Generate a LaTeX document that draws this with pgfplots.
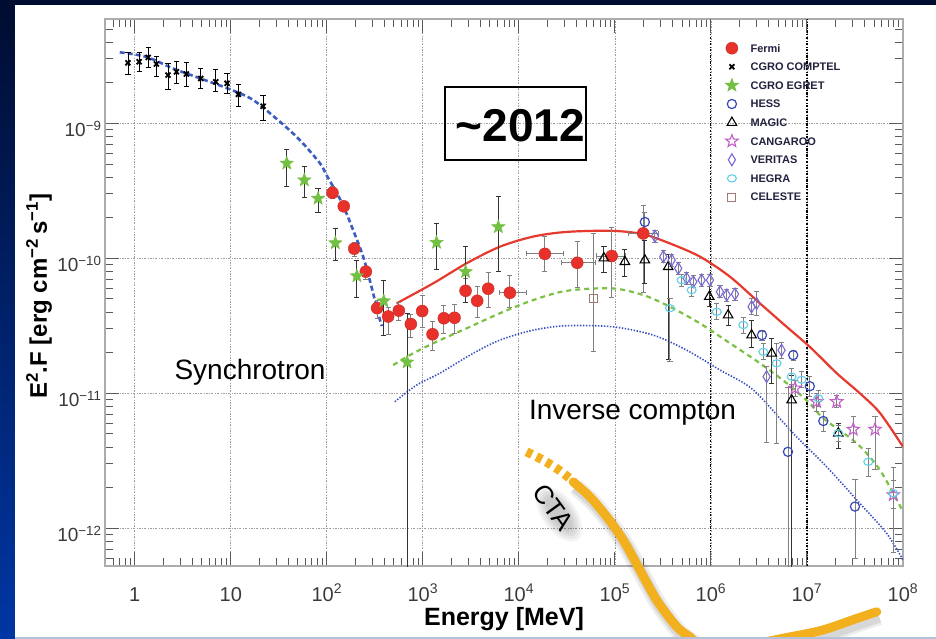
\documentclass[border=0pt]{standalone}
\usepackage{fontspec}
\setmainfont{Liberation Sans}
\usepackage{pgfplots}
\usepackage{pgfplotstable}
\pgfplotsset{compat=1.18}
\usetikzlibrary{plotmarks}

\definecolor{navytop}{HTML}{000C30}
\definecolor{navybot}{HTML}{0036A4}
\definecolor{panelline}{HTML}{B4C2D8}
\definecolor{fermired}{HTML}{E8312A}
\definecolor{egret}{HTML}{74C043}
\definecolor{hessblue}{HTML}{3848B8}
\definecolor{cangaroo}{HTML}{C060C8}
\definecolor{veritas}{HTML}{7A6AD8}
\definecolor{hegra}{HTML}{60D0E8}
\definecolor{celeste}{HTML}{A07878}
\definecolor{icred}{HTML}{E63A2E}
\definecolor{icgreen}{HTML}{7CC143}
\definecolor{synblue}{HTML}{3C5CC0}
\definecolor{dotblue}{HTML}{3A50C0}
\definecolor{cta}{HTML}{F2B01E}
\definecolor{legtext}{HTML}{22223F}
\definecolor{ticktext}{HTML}{3A3A3A}

% five-pointed stars, filled and open
\pgfdeclareplotmark{fstar}{%
  \pgfpathmoveto{\pgfpointpolar{90}{\pgfplotmarksize}}%
  \pgfpathlineto{\pgfpointpolar{126}{0.42*\pgfplotmarksize}}%
  \pgfpathlineto{\pgfpointpolar{162}{\pgfplotmarksize}}%
  \pgfpathlineto{\pgfpointpolar{198}{0.42*\pgfplotmarksize}}%
  \pgfpathlineto{\pgfpointpolar{234}{\pgfplotmarksize}}%
  \pgfpathlineto{\pgfpointpolar{270}{0.42*\pgfplotmarksize}}%
  \pgfpathlineto{\pgfpointpolar{306}{\pgfplotmarksize}}%
  \pgfpathlineto{\pgfpointpolar{342}{0.42*\pgfplotmarksize}}%
  \pgfpathlineto{\pgfpointpolar{18}{\pgfplotmarksize}}%
  \pgfpathlineto{\pgfpointpolar{54}{0.42*\pgfplotmarksize}}%
  \pgfpathclose\pgfusepathqfillstroke}
\pgfdeclareplotmark{ostar}{%
  \pgfpathmoveto{\pgfpointpolar{90}{\pgfplotmarksize}}%
  \pgfpathlineto{\pgfpointpolar{126}{0.42*\pgfplotmarksize}}%
  \pgfpathlineto{\pgfpointpolar{162}{\pgfplotmarksize}}%
  \pgfpathlineto{\pgfpointpolar{198}{0.42*\pgfplotmarksize}}%
  \pgfpathlineto{\pgfpointpolar{234}{\pgfplotmarksize}}%
  \pgfpathlineto{\pgfpointpolar{270}{0.42*\pgfplotmarksize}}%
  \pgfpathlineto{\pgfpointpolar{306}{\pgfplotmarksize}}%
  \pgfpathlineto{\pgfpointpolar{342}{0.42*\pgfplotmarksize}}%
  \pgfpathlineto{\pgfpointpolar{18}{\pgfplotmarksize}}%
  \pgfpathlineto{\pgfpointpolar{54}{0.42*\pgfplotmarksize}}%
  \pgfpathclose\pgfusepathqstroke}

% ---------------- data: energy [MeV], E^2 F [erg cm^-2 s^-1], relative errors
\pgfplotstableread{
x y ep em xp xm
114.6 3.06e-10 0.108 0.097 0 0
150 2.43e-10 0.089 0.082 0 0
193 1.18e-10 0.108 0.127 0 0
255 7.98e-11 0.089 0.127 0 0
334 4.28e-11 0.146 0.157 0 0
435 3.71e-11 0.166 0.264 0 0
562 4.10e-11 0.146 0.157 0 0
750 3.26e-11 0.186 0.199 0 0
984 4.07e-11 0.314 0.239 0 0
1262 2.74e-11 0.248 0.239 0 0
1655 3.60e-11 0.248 0.226 0 0
2138 3.63e-11 0.248 0.239 0 0
2786 5.75e-11 0.227 0.185 0 0
3680 4.85e-11 0.270 0.252 0 0
4786 5.96e-11 0.314 0.277 0 0
8054 5.56e-11 0.337 0.226 0.493 0.213
18660 1.08e-10 0.337 0.264 0.552 0.356
40500 9.27e-11 0.431 0.347 0.531 0.313
92500 1.04e-10 0.640 0.503 0.40 0.313
197000 1.53e-10 0.612 0.634 0.45 0.30
}\fermi

\pgfplotstableread{
x y ep em
0.85 2.81e-9 0.186 0.185
1.11 2.86e-9 0.166 0.157
1.38 3.08e-9 0.186 0.157
1.68 2.75e-9 0.146 0.185
2.22 2.28e-9 0.227 0.212
2.72 2.41e-9 0.186 0.185
3.45 2.32e-9 0.227 0.185
4.87 2.15e-9 0.186 0.157
6.98 2.03e-9 0.227 0.157
9.15 1.98e-9 0.186 0.157
12.0 1.64e-9 0.186 0.185
21.7 1.34e-9 0.206 0.212
}\comptel

\pgfplotstableread{
x y ep em
38.3 5.06e-10 0.270 0.324
58.3 3.80e-10 0.270 0.252
81.1 2.78e-10 0.186 0.212
122.7 1.30e-10 0.291 0.252
205.6 7.40e-11 0.314 0.301
392 4.83e-11 0.431 0.440
686 1.70e-11 1.307 0.98
1389 1.31e-10 0.383 0.369
2786 7.96e-11 0.531 0.410
6110 1.71e-10 0.668 0.536
}\egret

\pgfplotstableread{
x y ep em
205000 1.86e-10 0.186 0.127
3.40e6 2.70e-11 0.089 0.082
7.19e6 1.92e-11 0.089 0.082
1.07e7 1.13e-11 0.186 0.157
1.48e7 6.24e-12 0.186 0.157
6.34e6 3.69e-12 2.0 0.95
3.16e7 1.45e-12 0.585 0.588
}\hess

\pgfplotstableread{
x y ep em
76800 1.005e-10 0.227 0.212
127000 9.44e-11 0.227 0.226
205000 9.71e-11 0.406 0.324
359000 8.66e-11 0.227 0.795
960000 5.20e-11 0.186 0.157
1.51e6 3.80e-11 0.186 0.157
2.65e6 2.70e-11 0.291 0.185
4.29e6 1.98e-11 0.291 0.401
6.92e6 8.91e-12 0.531 0.97
2.12e7 5.06e-12 0.186 0.226
}\magic

\pgfplotstableread{
x y ep em
7.50e6 1.09e-11 0.146 0.127
1.26e7 8.67e-12 0.146 0.157
2.04e7 8.67e-12 0.108 0.097
3.03e7 5.41e-12 0.248 0.199
5.11e7 5.41e-12 0.248 0.495
7.92e7 1.77e-12 0.585 0.628
}\cangaroo

\pgfplotstableread{
x y ep em
261000 1.46e-10 0.108 0.097
319000 1.03e-10 0.108 0.097
390000 9.71e-11 0.108 0.097
456000 8.43e-11 0.108 0.097
558000 7.11e-11 0.108 0.097
655000 6.71e-11 0.108 0.097
800000 6.90e-11 0.108 0.097
977000 6.90e-11 0.108 0.097
1.24e6 5.66e-11 0.108 0.097
1.46e6 5.35e-11 0.108 0.097
1.78e6 5.44e-11 0.108 0.097
2.65e6 4.38e-11 0.146 0.127
2.99e6 4.64e-11 0.227 0.185
3.80e6 1.33e-11 0.186 0.675
5.44e6 2.09e-11 0.146 0.127
}\veritas

\pgfplotstableread{
x y ep em
374000 4.27e-11 0.186 0.595
495000 6.90e-11 0.108 0.097
630000 5.82e-11 0.108 0.097
1.15e6 4.02e-11 0.146 0.127
2.17e6 3.21e-11 0.146 0.127
3.51e6 2.03e-11 0.146 0.127
4.83e6 1.67e-11 0.406 0.745
6.92e6 1.33e-11 0.146 0.127
8.81e6 1.26e-11 0.146 0.127
1.31e7 9.18e-12 0.146 0.127
2.12e7 5.06e-12 0.146 0.127
4.35e7 3.11e-12 0.248 0.226
7.92e7 1.82e-12 0.248 0.226
}\hegra

\pgfplotstableread{
x y ep em
59400 5.06e-11 2.03 0.595
}\celeste

% ---------------- model curves
\pgfplotstableread{
x y
0.698 3.36e-9
1.32 3.11e-9
2.51 2.55e-9
4.75 2.16e-9
9.77 1.79e-9
17.1 1.49e-9
32.4 1.03e-9
52.4 7.52e-10
84.6 5.08e-10
99.3 4.14e-10
142 2.62e-10
188 1.62e-10
239 1.03e-10
292 6.16e-11
342 3.92e-11
374 3.15e-11
}\synch

\pgfplotstableread{
x y
532 4.64e-11
1280 6.53e-11
2850 9.19e-11
6340 1.22e-10
14100 1.45e-10
31400 1.57e-10
92400 1.60e-10
196000 1.51e-10
374000 1.29e-10
768000 1.03e-10
1.58e6 7.31e-11
3.24e6 4.64e-11
6.15e6 3.11e-11
1.07e7 2.21e-11
2.04e7 1.41e-11
3.56e7 1.00e-11
5.76e7 7.15e-12
1.0e8 4.02e-12
}\icred

\pgfplotstableread{
x y
491 1.62e-11
732 1.92e-11
1280 2.35e-11
2850 3.03e-11
6340 3.92e-11
14100 4.91e-11
31400 5.75e-11
92400 6.00e-11
197000 5.35e-11
374000 4.38e-11
768000 3.30e-11
1.58e6 2.35e-11
3.24e6 1.67e-11
6.15e6 1.19e-11
1.07e7 8.43e-12
1.48e7 6.53e-12
3.29e7 4.27e-12
5.76e7 2.70e-12
1.0e8 1.33e-12
}\icgreen

\pgfplotstableread{
x y
511 8.67e-12
859 1.15e-11
1503 1.41e-11
3342 1.98e-11
6340 2.48e-11
14100 2.94e-11
31400 3.17e-11
95900 3.11e-11
251000 2.70e-11
558000 2.09e-11
1.24e6 1.49e-11
2.76e6 1.06e-11
7.19e6 5.06e-12
1.60e7 2.86e-12
3.56e7 1.53e-12
6.76e7 9.18e-13
1.0e8 5.82e-13
}\icblue

\pgfplotstableread{
x y
12030 3.69e-12
17900 3.20e-12
24700 2.78e-12
34000 2.34e-12
36800 2.21e-12
}\ctafuture

\pgfplotstableread{
x y
36800 2.21e-12
55000 1.71e-12
82000 1.22e-12
122000 8.19e-13
182000 4.91e-13
272000 2.94e-13
440000 1.87e-13
604000 1.57e-13
768000 1.41e-13
2.0e6 1.35e-13
6.65e6 1.57e-13
1.48e7 1.77e-13
3.29e7 2.15e-13
5.32e7 2.41e-13
}\ctacurve

\pgfplotsset{
  /pgfplots/error bars/error mark=|,
}

\begin{document}
\begin{tikzpicture}[x=1pt,y=1pt]
% slide background and white panel
\shade[top color=navytop, bottom color=navybot] (0,0) rectangle (936,639);
\fill[white] (15,2) rectangle (936,634);
\fill[panelline] (15,0) rectangle (936,2);

\begin{axis}[
  at={(105pt,73pt)}, anchor=south west,
  scale only axis, width=798pt, height=547pt,
  xmode=log, ymode=log,
  xmin=0.49, xmax=1e8, ymin=5.26e-13, ymax=5.93e-9,
  axis line style={draw=gray!65, line width=1.3pt},
  tick align=inside,
  major tick length=14pt, minor tick length=8pt,
  tick style={draw=gray!70!black, line width=1pt},
  xtick={1,10,100,1000,1e4,1e5,1e6,1e7,1e8},
  xticklabels={1,10,10\textsuperscript{2},10\textsuperscript{3},10\textsuperscript{4},10\textsuperscript{5},10\textsuperscript{6},10\textsuperscript{7},10\textsuperscript{8}},
  minor xtick={0.5,0.6,0.7,0.8,0.9,2,3,4,5,6,7,8,9,20,30,40,50,60,70,80,90,200,300,400,500,600,700,800,900,2e3,3e3,4e3,5e3,6e3,7e3,8e3,9e3,2e4,3e4,4e4,5e4,6e4,7e4,8e4,9e4,2e5,3e5,4e5,5e5,6e5,7e5,8e5,9e5,2e6,3e6,4e6,5e6,6e6,7e6,8e6,9e6,2e7,3e7,4e7,5e7,6e7,7e7,8e7,9e7},
  ytick={1e-12,1e-11,1e-10,1e-9},
  yticklabels={10\textsuperscript{−12},10\textsuperscript{−11},10\textsuperscript{−10},10\textsuperscript{−9}},
  minor ytick={6e-13,7e-13,8e-13,9e-13,2e-12,3e-12,4e-12,5e-12,6e-12,7e-12,8e-12,9e-12,2e-11,3e-11,4e-11,5e-11,6e-11,7e-11,8e-11,9e-11,2e-10,3e-10,4e-10,5e-10,6e-10,7e-10,8e-10,9e-10,2e-9,3e-9,4e-9,5e-9},
  extra x ticks={1e6,1e7}, extra x tick labels={},
  extra x tick style={major grid style={black, line width=1.1pt, dash pattern=on 2.5pt off 1.5pt on 0.7pt off 1.5pt}},
  grid=major,
  major grid style={gray!75, line width=0.8pt, dash pattern=on 2pt off 1.5pt on 0.6pt off 1.5pt},
  xticklabel style={anchor=base, yshift=-35pt, inner sep=1pt, font=\fontsize{20}{20}\selectfont, text=ticktext},
  yticklabel style={anchor=base east, yshift=-13.5pt, font=\fontsize{19}{19}\selectfont, text=ticktext},
  xlabel={Energy [MeV]},
  ylabel={E\textsuperscript{2}.F [erg cm\textsuperscript{−2}\,s\textsuperscript{−1}]},
  every axis x label/.style={at={(axis description cs:0.5,0)}, anchor=base, yshift=-59pt, inner sep=1pt, font=\bfseries\fontsize{25}{25}\selectfont},
  every axis y label/.style={at={(axis description cs:-0.0727,0.493)}, rotate=90, anchor=base, font=\bfseries\fontsize{24}{24}\selectfont},
  legend style={at={(axis description cs:0.777,0.964)}, anchor=north west, draw=none, fill=none,
    inner sep=0pt, row sep=0pt, column sep=10pt,
    font=\bfseries\fontsize{11}{11}\selectfont, text=legtext,
    nodes={inner xsep=2pt, inner ysep=0pt, text height=13.2pt, text depth=5.4pt}},
  legend cell align=left,
]
% model curves
\addplot[forget plot, synblue, line width=2.6pt, dash pattern=on 5pt off 3pt, smooth] table {\synch};
\addplot[forget plot, icred, line width=2.2pt, smooth] table {\icred};
\addplot[forget plot, icgreen, line width=2.2pt, dash pattern=on 5pt off 4pt, smooth] table {\icgreen};
\addplot[forget plot, dotblue, line width=1.6pt, dash pattern=on 1.4pt off 1.6pt, smooth] table {\icblue};

% measurements
\addplot[only marks, mark=*, mark size=6pt, fermired, mark options={fill=fermired, draw=fermired!85!black},
  error bars/y dir=both, error bars/y explicit relative,
  error bars/x dir=both, error bars/x explicit relative,
  error bars/error bar style={gray, line width=0.9pt, solid},
  error bars/error mark options={gray, mark size=2.6pt, line width=0.9pt, solid}]
  table[x=x, y=y, y error plus=ep, y error minus=em, x error plus=xp, x error minus=xm] {\fermi};
\addlegendentry{Fermi}
\addplot[only marks, mark=x, mark size=3.5pt, black, mark options={line width=1.8pt},
  error bars/y dir=both, error bars/y explicit relative,
  error bars/error bar style={black, line width=0.9pt, solid},
  error bars/error mark options={black, mark size=2.6pt, line width=0.9pt, solid}]
  table[x=x, y=y, y error plus=ep, y error minus=em] {\comptel};
\addlegendentry{CGRO COMPTEL}
\addplot[only marks, mark=fstar, mark size=7pt, egret, mark options={fill=egret, line width=0.5pt},
  error bars/y dir=both, error bars/y explicit relative,
  error bars/error bar style={black!80, line width=0.9pt, solid},
  error bars/error mark options={black!80, mark size=2.6pt, line width=0.9pt, solid}]
  table[x=x, y=y, y error plus=ep, y error minus=em] {\egret};
\addlegendentry{CGRO EGRET}
\addplot[only marks, mark=o, mark size=4.6pt, hessblue, mark options={line width=1.2pt},
  error bars/y dir=both, error bars/y explicit relative,
  error bars/error bar style={gray, line width=0.9pt, solid},
  error bars/error mark options={gray, mark size=2.6pt, line width=0.9pt, solid}]
  table[x=x, y=y, y error plus=ep, y error minus=em] {\hess};
\addlegendentry{HESS}
\addplot[only marks, mark=triangle, mark size=5.5pt, black, mark options={line width=1.1pt},
  error bars/y dir=both, error bars/y explicit relative,
  error bars/error bar style={black!80, line width=0.9pt, solid},
  error bars/error mark options={black!80, mark size=2.6pt, line width=0.9pt, solid}]
  table[x=x, y=y, y error plus=ep, y error minus=em] {\magic};
\addlegendentry{MAGIC}
\addplot[only marks, mark=ostar, mark size=6.5pt, cangaroo, mark options={line width=1.1pt},
  error bars/y dir=both, error bars/y explicit relative,
  error bars/error bar style={gray, line width=0.9pt, solid},
  error bars/error mark options={gray, mark size=2.6pt, line width=0.9pt, solid}]
  table[x=x, y=y, y error plus=ep, y error minus=em] {\cangaroo};
\addlegendentry{CANGAROO}
\addplot[only marks, mark=diamond, mark size=6pt, veritas, mark options={xscale=0.8, line width=1.1pt},
  error bars/y dir=both, error bars/y explicit relative,
  error bars/error bar style={gray, line width=0.9pt, solid},
  error bars/error mark options={gray, mark size=2.6pt, line width=0.9pt, solid}]
  table[x=x, y=y, y error plus=ep, y error minus=em] {\veritas};
\addlegendentry{VERITAS}
\addplot[only marks, mark=o, mark size=4.5pt, hegra, mark options={yscale=0.8, line width=1.1pt},
  error bars/y dir=both, error bars/y explicit relative,
  error bars/error bar style={gray, line width=0.9pt, solid},
  error bars/error mark options={gray, mark size=2.6pt, line width=0.9pt, solid}]
  table[x=x, y=y, y error plus=ep, y error minus=em] {\hegra};
\addlegendentry{HEGRA}
\addplot[only marks, mark=square, mark size=4pt, celeste, mark options={line width=1pt},
  error bars/y dir=both, error bars/y explicit relative,
  error bars/error bar style={gray, line width=0.9pt, solid},
  error bars/error mark options={gray, mark size=2.6pt, line width=0.9pt, solid}]
  table[x=x, y=y, y error plus=ep, y error minus=em] {\celeste};
\addlegendentry{CELESTE}
\end{axis}

% soft glow behind the CTA label
\foreach \k in {1,...,5}{
  \fill[black, opacity=0.045, rotate around={-54:(559,125)}] (559,125) ellipse ({17+3*\k} and {6+2.2*\k});
}

% CTA sensitivity, allowed to run past the frame down to the panel edge
\begin{scope}
\clip (15,2) rectangle (936,634);
\begin{axis}[
  at={(105pt,73pt)}, anchor=south west,
  scale only axis, width=798pt, height=547pt,
  xmode=log, ymode=log,
  xmin=0.49, xmax=1e8, ymin=5.26e-13, ymax=5.93e-9,
  hide axis, clip=false]
\addplot[black, opacity=0.07, line width=17pt, smooth] table[x expr=\thisrow{x}*1.06, y expr=\thisrow{y}*0.92] {\ctacurve};
\addplot[black, opacity=0.09, line width=12pt, smooth] table[x expr=\thisrow{x}*1.06, y expr=\thisrow{y}*0.92] {\ctacurve};
\addplot[cta, line width=9pt, line cap=butt, dash pattern=on 6pt off 5pt, smooth] table {\ctafuture};
\addplot[cta, line width=9pt, line cap=round, smooth] table {\ctacurve};
\end{axis}
\end{scope}

% annotations
\node[draw=black, line width=1.5pt, minimum width=141pt, minimum height=73pt, inner sep=0pt] at (515.5,515.5) {};
\node[anchor=base, font=\bfseries\fontsize{46}{46}\selectfont] at (520.5,497) {\textasciitilde 2012};
\node[anchor=base, font=\fontsize{28}{28}\selectfont] at (250,259) {Synchrotron};
\node[anchor=base, font=\fontsize{28}{28}\selectfont] at (632.5,219) {Inverse compton};
\node[rotate=-54, inner sep=1pt, font=\fontsize{26}{26}\selectfont] at (553,132) {CTA};

\pgfresetboundingbox
\path (0,0) rectangle (936,639);
\end{tikzpicture}
\end{document}
